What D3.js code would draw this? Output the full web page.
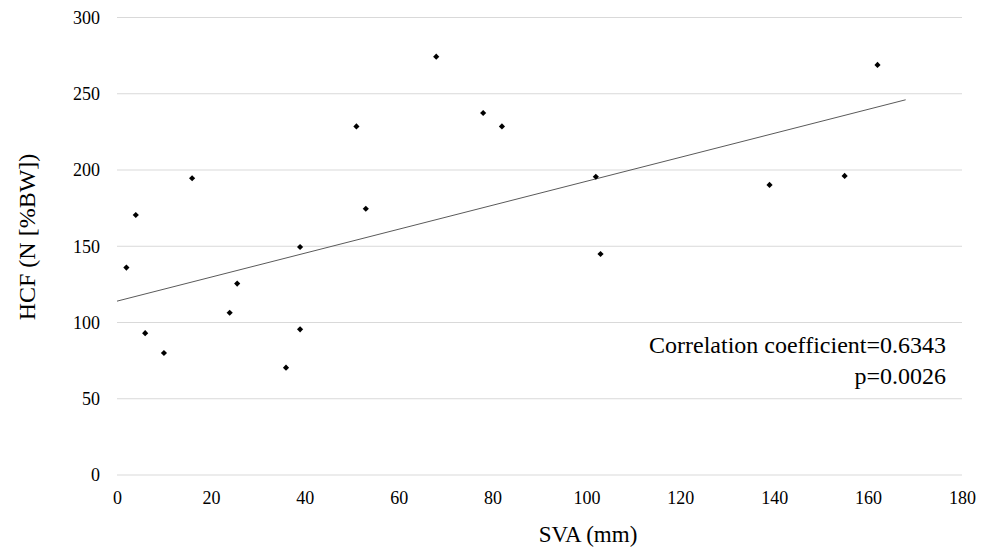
<!DOCTYPE html>
<html>
<head>
<meta charset="utf-8">
<script src="https://cdn.jsdelivr.net/npm/d3@7"></script>
<style>
  body { margin: 0; background: #fff; }
</style>
</head>
<body>
<div id="chart"></div>
<script>
// SVA (mm) and HCF (N [%BW]) for each subject
var svaValues = [2, 4, 6, 10, 16, 24, 25.6, 36, 39, 39, 51, 53, 68, 78, 82, 102, 103, 139, 155, 162];
var hcfValues = [136, 170.5, 93, 80, 194.6, 106.4, 125.5, 70.4, 149.5, 95.5, 228.6, 174.6, 274.3, 237.4, 228.6, 195.6, 144.9, 190.2, 196.1, 268.9];

var xTicks = [0, 20, 40, 60, 80, 100, 120, 140, 160, 180];
var yTicks = [0, 50, 100, 150, 200, 250, 300];

// linear trend line as drawn in the figure
var trendIntercept = 114;
var trendSlope = 0.786;
var trendRange = [0, 168];

var annotation = ["Correlation coefficient=0.6343", "p=0.0026"];

var FONT = "'Liberation Serif', 'Times New Roman', serif";
var W = 992, H = 548;
var margin = {top: 17.5, right: 30, bottom: 73, left: 117};

var svg = d3.select("#chart")
    .append("svg")
    .attr("width", W)
    .attr("height", H);

var x = d3.scaleLinear().domain([0, 180]).range([margin.left, W - margin.right]);
var y = d3.scaleLinear().domain([0, 300]).range([H - margin.bottom, margin.top]);

// gridlines
svg.append("g")
    .selectAll("line")
    .data(yTicks)
    .enter().append("line")
    .attr("x1", x(0))
    .attr("x2", x(180))
    .attr("y1", d => y(d))
    .attr("y2", d => y(d))
    .attr("stroke", "#d9d9d9")
    .attr("stroke-width", 1);

// y axis labels
var yAxis = svg.append("g")
    .attr("transform", "translate(" + (margin.left - 17) + ",0)")
    .call(d3.axisLeft(y).tickValues(yTicks).tickSize(0).tickPadding(0));
yAxis.select(".domain").remove();
yAxis.selectAll("text")
    .style("font-size", "18px")
    .style("font-family", FONT)
    .style("fill", "#000")
    .attr("dy", "0.33em");

// x axis labels
var xAxis = svg.append("g")
    .attr("transform", "translate(0," + (y(0) + 16) + ")")
    .call(d3.axisBottom(x).tickValues(xTicks).tickSize(0).tickPadding(0));
xAxis.select(".domain").remove();
xAxis.selectAll("text")
    .style("font-size", "18px")
    .style("font-family", FONT)
    .style("fill", "#000")
    .attr("dy", "0.71em");

// trend line
var line = d3.line()
    .x(d => x(d))
    .y(d => y(trendIntercept + trendSlope * d));
svg.append("path")
    .datum(trendRange)
    .attr("d", line)
    .attr("fill", "none")
    .attr("stroke", "#5a5a5a")
    .attr("stroke-width", 1);

// points (diamonds)
var diamond = d3.symbol().type(d3.symbolSquare).size(19);
svg.append("g")
    .selectAll("path")
    .data(svaValues.map((v, i) => ({sva: v, hcf: hcfValues[i]})))
    .enter().append("path")
    .attr("d", diamond)
    .attr("transform", d => "translate(" + x(d.sva) + "," + y(d.hcf) + ") rotate(45)")
    .attr("fill", "#000");

// annotation
svg.append("g")
    .selectAll("text")
    .data(annotation)
    .enter().append("text")
    .attr("x", 946)
    .attr("y", (d, i) => 352.5 + i * 31)
    .attr("text-anchor", "end")
    .style("font-family", FONT)
    .style("font-size", "24px")
    .text(d => d);

// axis titles
svg.append("text")
    .attr("text-anchor", "middle")
    .attr("x", 588)
    .attr("y", 542)
    .style("font-family", FONT)
    .style("font-size", "23px")
    .text("SVA (mm)");

svg.append("text")
    .attr("text-anchor", "middle")
    .attr("transform", "rotate(-90)")
    .attr("x", -237)
    .attr("y", 35)
    .style("font-family", FONT)
    .style("font-size", "24px")
    .text("HCF (N [%BW])");
</script>
</body>
</html>
